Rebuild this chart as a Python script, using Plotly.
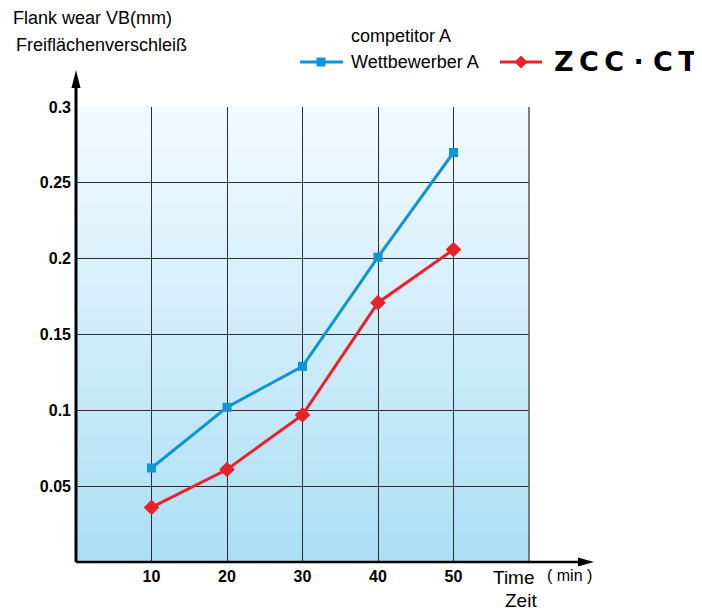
import plotly.graph_objects as go

time_min = [10, 20, 30, 40, 50]
competitor_vb = [0.062, 0.102, 0.129, 0.201, 0.270]
zcc_vb = [0.036, 0.061, 0.097, 0.171, 0.206]
y_ticks = [0.05, 0.1, 0.15, 0.2, 0.25, 0.3]
y_tick_text = ["0.05", "0.1", "0.15", "0.2", "0.25", "0.3"]
x_ticks = [10, 20, 30, 40, 50]
x_tick_text = ["10", "20", "30", "40", "50"]
legend_names = ["competitor A", "Wettbewerber A"]
logo_text = "Z\u2009C\u2009C \u00b7 C\u2009T"

W, H = 702, 610
OFF = 8  # page body margin
# plot area in screen pixels
SX0, SX1, SY0, SY1 = 76, 529, 107, 562
PW, PH = SX1 - SX0, SY1 - SY0
L, T = SX0 - OFF, SY0 - OFF
R, B = W - (SX1 - OFF), H - (SY1 - OFF)

def xp(px):
    return (px - SX0) / PW

def yp(py):
    return (SY1 - py) / PH

FONT = "Liberation Sans, Arial, sans-serif"
BLUE = "#0f95d6"
RED = "#e8222a"

fig = go.Figure()
fig.add_trace(go.Scatter(
    x=time_min, y=competitor_vb, mode="lines+markers",
    name="competitor A / Wettbewerber A",
    line=dict(color=BLUE, width=3),
    marker=dict(symbol="square", size=9, color=BLUE),
))
fig.add_trace(go.Scatter(
    x=time_min, y=zcc_vb, mode="lines+markers",
    name="ZCC·CT",
    line=dict(color=RED, width=3),
    marker=dict(symbol="diamond", size=12, color=RED),
))

shapes = []
# vertical gradient background
top = (0xf4, 0xfa, 0xff)
bot = (0xab, 0xdf, 0xf5)
n = 90
for i in range(n):
    t = (i + 0.5) / n
    c = tuple(round(bot[k] + (top[k] - bot[k]) * t) for k in range(3))
    shapes.append(dict(type="rect", xref="paper", yref="paper",
                       x0=0, x1=1, y0=i / n, y1=(i + 1) / n + 0.002,
                       fillcolor="rgb(%d,%d,%d)" % c, line=dict(width=0),
                       layer="below"))
# right border
shapes.append(dict(type="line", xref="paper", yref="paper", x0=1, x1=1, y0=0, y1=1,
                   line=dict(color="#555555", width=1.5)))
# left axis with arrow
shapes.append(dict(type="line", xref="paper", yref="paper", x0=0, x1=0, y0=0, y1=yp(86),
                   line=dict(color="black", width=3)))
shapes.append(dict(type="path", xref="paper", yref="paper",
                   path="M %f %f L %f %f L %f %f Z" % (xp(76), yp(70), xp(71.5), yp(88), xp(80.5), yp(88)),
                   fillcolor="black", line=dict(width=0)))
# bottom axis with arrow
shapes.append(dict(type="line", xref="paper", yref="paper", x0=0, x1=xp(582), y0=0, y1=0,
                   line=dict(color="black", width=2.5)))
shapes.append(dict(type="path", xref="paper", yref="paper",
                   path="M %f %f L %f %f L %f %f Z" % (xp(594), yp(562), xp(578), yp(557.5), xp(578), yp(566.5)),
                   fillcolor="black", line=dict(width=0)))

# legend samples (drawn by hand)
LY = 62
shapes.append(dict(type="line", xref="paper", yref="paper", x0=xp(300), x1=xp(343), y0=yp(LY), y1=yp(LY),
                   line=dict(color=BLUE, width=3)))
shapes.append(dict(type="rect", xref="paper", yref="paper", x0=xp(316.5), x1=xp(325.5),
                   y0=yp(LY + 4.5), y1=yp(LY - 4.5), fillcolor=BLUE, line=dict(width=0)))
shapes.append(dict(type="line", xref="paper", yref="paper", x0=xp(500), x1=xp(542), y0=yp(LY), y1=yp(LY),
                   line=dict(color=RED, width=3)))
shapes.append(dict(type="path", xref="paper", yref="paper",
                   path="M %f %f L %f %f L %f %f L %f %f Z" % (
                       xp(521), yp(LY - 6.5), xp(527.5), yp(LY), xp(521), yp(LY + 6.5), xp(514.5), yp(LY)),
                   fillcolor=RED, line=dict(width=0)))

annotations = [
    dict(text="Flank wear VB(mm)", x=xp(11), y=yp(18), xanchor="left", yanchor="middle",
         font=dict(size=18, family=FONT, color="black")),
    dict(text="Freiflächenverschleiß", x=xp(14), y=yp(45), xanchor="left", yanchor="middle",
         font=dict(size=18, family=FONT, color="black")),
    dict(text=legend_names[0], x=xp(349), y=yp(36), xanchor="left", yanchor="middle",
         font=dict(size=18, family=FONT, color="black")),
    dict(text=legend_names[1], x=xp(349), y=yp(LY), xanchor="left", yanchor="middle",
         font=dict(size=18, family=FONT, color="black")),
    dict(text="<b>" + logo_text + "</b>", x=xp(552), y=yp(LY), xanchor="left", yanchor="middle",
         font=dict(size=27, family="DejaVu Sans", color="black")),
    dict(text="Time", x=xp(491), y=yp(577), xanchor="left", yanchor="middle",
         font=dict(size=19, family=FONT, color="black")),
    dict(text="( min )", x=xp(545), y=yp(575), xanchor="left", yanchor="middle",
         font=dict(size=16, family=FONT, color="black")),
    dict(text="Zeit", x=xp(521), y=yp(600), xanchor="center", yanchor="middle",
         font=dict(size=19, family=FONT, color="black")),
]
for a in annotations:
    a.update(xref="paper", yref="paper", showarrow=False)

fig.update_layout(
    width=W, height=H,
    margin=dict(l=L, r=R, t=T, b=B),
    paper_bgcolor="white", plot_bgcolor="white",
    shapes=shapes, annotations=annotations,
    showlegend=False,
    xaxis=dict(range=[0, 60], tickvals=x_ticks, ticktext=x_tick_text,
               showgrid=True, gridcolor="#2e2e2e", gridwidth=1,
               zeroline=False, showline=False, ticks="", ticklabelstandoff=3,
               tickfont=dict(size=16, family=FONT, color="black", weight="bold"),
               fixedrange=True),
    yaxis=dict(range=[0, 0.3], tickvals=y_ticks, ticktext=y_tick_text,
               showgrid=True, gridcolor="#2e2e2e", gridwidth=1,
               zeroline=False, showline=False, ticks="", ticklabelstandoff=4,
               tickfont=dict(size=16, family=FONT, color="black", weight="bold"),
               fixedrange=True),
)

fig.write_html("out.html")
